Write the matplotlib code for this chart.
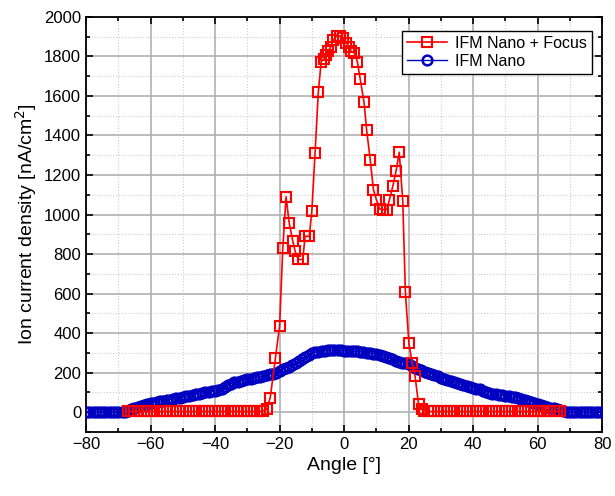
import numpy as np
import matplotlib.pyplot as plt
from matplotlib.ticker import MultipleLocator

plt.rcParams['font.family'] = ['Liberation Sans', 'DejaVu Sans']

# IFM Nano + Focus (red squares)
focus_x = list(range(-67, -25)) + [
    -25.2, -24.0, -22.9, -21.3, -20.0, -19.0, -18.0, -17.0, -15.9, -15.2,
    -14.2, -12.8, -12.1, -10.8, -10.0, -9.0, -8.0, -7.1, -6.2, -5.6,
    -4.9, -4.1, -3.3, -2.3, -1.2, -0.4, 0.6, 1.5, 2.2, 3.2,
    4.1, 5.0, 6.2, 7.0, 8.1, 9.1, 10.0, 11.0, 12.0, 13.2,
    14.0, 15.1, 16.1, 17.1, 18.2, 19.0, 20.1, 21.1, 22.0, 23.1,
    24.2, 24.8] + list(range(26, 68))
focus_y = [4] * 42 + [
    7, 15, 74, 276, 436, 832, 1090, 955, 865, 815,
    773, 773, 890, 890, 1017, 1312, 1618, 1774, 1786, 1808,
    1828, 1850, 1884, 1904, 1904, 1892, 1870, 1850, 1825, 1817,
    1774, 1685, 1567, 1426, 1278, 1126, 1076, 1029, 1025, 1025,
    1072, 1143, 1219, 1315, 1067, 608, 348, 251, 183, 40,
    15, 5] + [4] * 42

# IFM Nano (blue circles)
nano_x = list(range(-80, 81))
nano_y = [0] * 12 + [
    3, 8, 14, 20, 27, 33, 38, 42, 46, 49,
    52, 55, 58, 61, 64, 67, 70, 73, 77, 80,
    84, 87, 90, 94, 97, 100, 103, 106, 109, 113,
    118, 126, 136, 145, 151, 155, 159, 163, 167, 170,
    173, 176, 179, 183, 187, 191, 195, 200, 207, 217,
    224, 231, 239, 248, 258, 270, 280, 290, 298, 303,
    307, 310, 312, 313, 314, 314, 313, 313, 312, 312,
    311, 310, 308, 306, 304, 302, 300, 297, 294, 290,
    285, 279, 273, 267, 261, 256, 251, 247, 242, 232,
    224, 218, 212, 206, 200, 194, 188, 181, 174, 169,
    163, 158, 153, 148, 143, 138, 133, 129, 124, 120,
    116, 110, 104, 98, 94, 91, 88, 85, 82, 80,
    78, 76, 73, 69, 64, 59, 53, 47, 42, 37,
    33, 29, 24, 19, 14, 9, 5, 2] + [0] * 11

fig = plt.figure(figsize=(6.15, 4.96), dpi=100)
ax = fig.add_axes([0.14, 0.129, 0.839, 0.837])

ax.plot(nano_x, nano_y, color='#0000c0', marker='o', markersize=7,
        markerfacecolor='none', markeredgewidth=1.8, linewidth=1,
        label='IFM Nano', zorder=3)
ax.plot(focus_x, focus_y, color='#ff0000', marker='s', markersize=6.5,
        markerfacecolor='none', markeredgewidth=1.5, linewidth=1.2,
        label='IFM Nano + Focus', zorder=4)

ax.set_xlim(-80, 80)
ax.set_ylim(-100, 2000)
ax.xaxis.set_major_locator(MultipleLocator(20))
ax.xaxis.set_minor_locator(MultipleLocator(10))
ax.yaxis.set_major_locator(MultipleLocator(200))
ax.yaxis.set_minor_locator(MultipleLocator(100))

ax.grid(which='major', color='#b0b0b0', linewidth=1.2, linestyle='-')
ax.grid(which='minor', color='#cccccc', linewidth=0.8, linestyle=':')
ax.set_axisbelow(True)

ax.tick_params(which='both', direction='in', top=True, right=True,
               labelsize=12, width=1.2)
ax.tick_params(which='major', length=5)
ax.tick_params(which='minor', length=3)
for s in ax.spines.values():
    s.set_linewidth(1.3)

ax.set_xlabel('Angle [°]', fontsize=14)
ax.set_ylabel('Ion current density [nA/cm$^2$]', fontsize=14)

h, l = ax.get_legend_handles_labels()
leg = ax.legend(h[::-1], l[::-1], loc='upper right', fontsize=11.5,
                fancybox=False, edgecolor='black', framealpha=1,
                handlelength=2.5, borderpad=0.3, labelspacing=0.2,
                handletextpad=0.5, bbox_to_anchor=(0.995, 0.985))
leg.get_frame().set_linewidth(1)

fig.savefig('out.png', dpi=100)
